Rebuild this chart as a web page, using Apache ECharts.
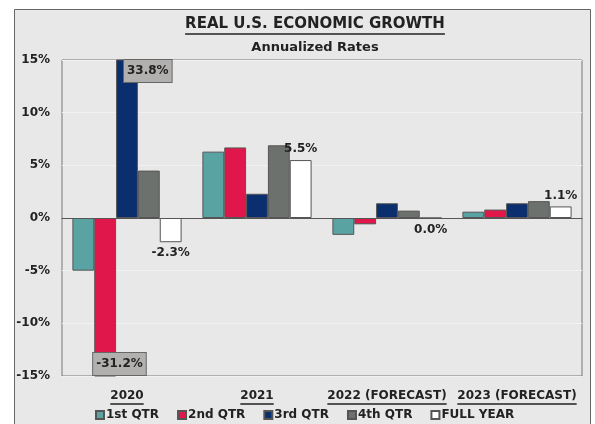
<!DOCTYPE html>
<html>
<head>
<meta charset="utf-8">
<script src="https://cdn.jsdelivr.net/npm/echarts@6/dist/echarts.min.js"></script>
<style>
html,body{margin:0;padding:0;background:#fff;}
#chart{width:595px;height:424px;}
</style>
</head>
<body>
<div id="chart"></div>
<script>
const categories = ['2020', '2021', '2022 (FORECAST)', '2023 (FORECAST)'];
const seriesNames = ['1st QTR', '2nd QTR', '3rd QTR', '4th QTR', 'FULL YEAR'];
const q1 = [-5.0, 6.3, -1.6, 0.6];
const q2 = [-31.2, 6.7, -0.6, 0.8];
const q3 = [33.8, 2.3, 1.4, 1.4];
const q4 = [4.5, 6.9, 0.7, 1.6];
const fullYear = [-2.3, 5.5, 0.0, 1.1];
const yMin = -15, yMax = 15, yInterval = 5;
const titleText = 'REAL U.S. ECONOMIC GROWTH';
const subtitleText = 'Annualized Rates';

const FONT = 'DejaVu Sans';
const colors = ['#5aa3a3', '#e0174b', '#0b2f6e', '#6d716e', '#ffffff'];

function measure(text, size) {
  const c = document.createElement('canvas').getContext('2d');
  c.font = 'bold ' + size + 'px "' + FONT + '"';
  return c.measureText(text).width;
}

const LBL = 12;
const xRich = { t: { fontFamily: FONT, fontWeight: 'bold', fontSize: LBL, color: '#222', lineHeight: 15 } };
categories.forEach((c, i) => {
  xRich['u' + i] = { width: measure(c, LBL), height: 1.3, backgroundColor: '#222', lineHeight: 2 };
});

const chart = echarts.init(document.getElementById('chart'));
const seriesData = [q1, q2, q3, q4, fullYear];

const boxLabel = {
  show: true,
  formatter: p => p.value.toFixed(1) + '%',
  fontFamily: FONT, fontWeight: 'bold', fontSize: LBL, color: '#222',
  backgroundColor: '#b2b0ae', borderColor: '#666', borderWidth: 1,
  padding: [5, 3, 5, 3]
};

const series = seriesData.map((arr, si) => {
  const s = {
    name: seriesNames[si],
    type: 'bar',
    barGap: '0%',
    barCategoryGap: '16%',
    itemStyle: { color: colors[si], borderColor: '#555', borderWidth: 1 },
    data: arr.map(v => v),
    xAxisIndex: 0
  };
  if (si === 4) {
    s.data = arr.map(v => ({
      value: v,
      label: {
        show: true,
        position: v > 0 ? 'top' : 'bottom',
        distance: 5,
        formatter: p => p.value.toFixed(1) + '%',
        fontFamily: FONT, fontWeight: 'bold', fontSize: LBL, color: '#222'
      }
    }));
  }
  if (si === 1) {
    s.markPoint = {
      symbolSize: 0,
      data: [{ coord: [categories[0], yMin], value: q2[0] }],
      label: Object.assign({}, boxLabel, { position: [-12, -23] })
    };
  }
  if (si === 2) {
    s.markPoint = {
      symbolSize: 0,
      data: [{ coord: [categories[0], yMax], value: q3[0] }],
      label: Object.assign({}, boxLabel, { position: [-3, 0] })
    };
  }
  return s;
});

const option = {
  animation: false,
  backgroundColor: '#ffffff',
  color: colors,
  graphic: [{
    type: 'rect', z: -10, silent: true,
    shape: { x: 14.5, y: 9.5, width: 576, height: 430 },
    style: { fill: '#e8e8e8', stroke: '#666', lineWidth: 1 }
  }],
  title: [{
    text: '{t|' + titleText + '}\n{u|}',
    left: 310, top: 11, textAlign: 'center',
    textStyle: {
      rich: {
        t: { fontFamily: FONT, fontWeight: 'bold', fontSize: 15, color: '#222', lineHeight: 17 },
        u: { width: measure(titleText, 15), height: 1.5, backgroundColor: '#222', lineHeight: 2 }
      }
    }
  }, {
    text: subtitleText,
    left: 310, top: 36, textAlign: 'center',
    textStyle: { fontFamily: FONT, fontWeight: 'bold', fontSize: 13, color: '#222' }
  }],
  legend: {
    data: seriesNames,
    left: 90, top: 404,
    icon: 'rect', itemWidth: 8, itemHeight: 8, itemGap: 18,
    textStyle: { fontFamily: FONT, fontWeight: 'bold', fontSize: LBL, color: '#222', padding: [0, 0, 0, -3] }
  },
  grid: {
    left: 62, right: 13, top: 60, bottom: 48,
    show: true, backgroundColor: '#e8e8e8', borderColor: '#777', borderWidth: 1
  },
  xAxis: [{
    type: 'category', data: categories, position: 'bottom',
    axisLine: { show: false, onZero: false }, axisTick: { show: false },
    axisLabel: {
      interval: 0, margin: 12,
      formatter: (v, i) => '{t|' + v + '}\n{u' + i + '|}',
      rich: xRich
    }
  }, {
    type: 'category', data: categories,
    axisLine: { show: true, onZero: true, lineStyle: { color: '#555', width: 1 } },
    axisTick: { show: false }, axisLabel: { show: false }, splitLine: { show: false }
  }],
  yAxis: {
    type: 'value', min: yMin, max: yMax, interval: yInterval,
    axisLine: { show: false }, axisTick: { show: false },
    splitLine: { show: true, lineStyle: { color: '#f1f1f1', width: 1 } },
    axisLabel: {
      margin: 12, formatter: v => v + '%',
      fontFamily: FONT, fontWeight: 'bold', fontSize: LBL, color: '#222'
    }
  },
  series: series
};
chart.setOption(option);
</script>
</body>
</html>
